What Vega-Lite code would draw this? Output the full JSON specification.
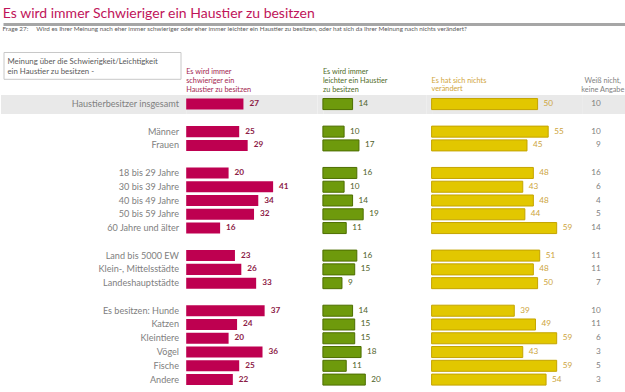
{
  "$schema": "https://vega.github.io/schema/vega-lite/v6.json",
  "background": "white",
  "padding": {"left": -9.5, "top": 7, "right": -9.5, "bottom": 0},
  "config": {
    "view": {"stroke": null},
    "font": "Lato",
    "text": {"font": "Lato"},
    "axis": {"labelFont": "Lato", "titleFont": "Lato"},
    "title": {"font": "Lato"}
  },
  "title": {
    "text": "Es wird immer Schwieriger ein Haustier zu besitzen",
    "anchor": "start",
    "frame": "bounds",
    "dx": 11.8,
    "fontSize": 14,
    "fontWeight": "normal",
    "color": "#c0145a",
    "offset": 2
  },
  "datasets": {
    "rows": [
      {"label": "Haustierbesitzer insgesamt", "schwieriger": 27, "leichter": 14, "unveraendert": 50, "weissnicht": 10},
      {"label": "Männer", "schwieriger": 25, "leichter": 10, "unveraendert": 55, "weissnicht": 10},
      {"label": "Frauen", "schwieriger": 29, "leichter": 17, "unveraendert": 45, "weissnicht": 9},
      {"label": "18 bis 29 Jahre", "schwieriger": 20, "leichter": 16, "unveraendert": 48, "weissnicht": 16},
      {"label": "30 bis 39 Jahre", "schwieriger": 41, "leichter": 10, "unveraendert": 43, "weissnicht": 6},
      {"label": "40 bis 49 Jahre", "schwieriger": 34, "leichter": 14, "unveraendert": 48, "weissnicht": 4},
      {"label": "50 bis 59 Jahre", "schwieriger": 32, "leichter": 19, "unveraendert": 44, "weissnicht": 5},
      {"label": "60 Jahre und älter", "schwieriger": 16, "leichter": 11, "unveraendert": 59, "weissnicht": 14},
      {"label": "Land bis 5000 EW", "schwieriger": 23, "leichter": 16, "unveraendert": 51, "weissnicht": 11},
      {"label": "Klein-, Mittelsstädte", "schwieriger": 26, "leichter": 15, "unveraendert": 48, "weissnicht": 11},
      {"label": "Landeshauptstädte", "schwieriger": 33, "leichter": 9, "unveraendert": 50, "weissnicht": 7},
      {"label": "Es besitzen: Hunde", "schwieriger": 37, "leichter": 14, "unveraendert": 39, "weissnicht": 10},
      {"label": "Katzen", "schwieriger": 24, "leichter": 15, "unveraendert": 49, "weissnicht": 11},
      {"label": "Kleintiere", "schwieriger": 20, "leichter": 15, "unveraendert": 59, "weissnicht": 6},
      {"label": "Vögel", "schwieriger": 36, "leichter": 18, "unveraendert": 43, "weissnicht": 3},
      {"label": "Fische", "schwieriger": 25, "leichter": 11, "unveraendert": 59, "weissnicht": 5},
      {"label": "Andere", "schwieriger": 22, "leichter": 20, "unveraendert": 54, "weissnicht": 3}
    ],
    "headers": [
      {"col": "box", "text": "Meinung über die Schwierigkeit/Leichtigkeit\nein Haustier zu besitzen -"},
      {"col": "r", "text": "Es wird immer\nschwieriger ein\nHaustier zu besitzen"},
      {"col": "g", "text": "Es wird immer\nleichter ein Haustier\nzu besitzen"},
      {"col": "y", "text": "Es hat sich nichts\nverändert"},
      {"col": "k", "text": "Weiß nicht,\nkeine Angabe"}
    ]
  },
  "spacing": 18,
  "vconcat": [
    {
      "width": 642,
      "height": 3,
      "data": {"values": [{}]},
      "mark": {"type": "rule", "color": "#a6a6a6", "strokeWidth": 3},
      "encoding": {"y": {"datum": 0.5, "type": "quantitative", "scale": {"domain": [0, 1]}, "axis": null}},
      "title": {
        "text": "Frage 27:\u00a0\u00a0\u00a0\u00a0 Wird es Ihrer Meinung nach eher immer schwieriger oder eher immer leichter ein Haustier zu besitzen, oder hat sich da Ihrer Meinung nach nichts verändert?",
        "orient": "bottom",
        "anchor": "start",
        "frame": "group",
        "dx": -1,
        "fontSize": 6.3,
        "fontWeight": "normal",
        "color": "#595959",
        "offset": 0
      }
    },
    {
      "hconcat": [
        {
          "width": 177,
          "height": 26.8,
          "view": {"stroke": "#c8c8c8", "strokeWidth": 1},
          "data": {"name": "headers"},
          "transform": [{"filter": "datum.col == 'box'"}],
          "mark": {"type": "text", "align": "left", "baseline": "middle", "lineBreak": "\n", "dx": 4, "dy": -3, "fontSize": 7.8, "lineHeight": 9.7, "color": "#595959"},
          "encoding": {
            "x": {"datum": 0, "type": "quantitative", "scale": {"domain": [0, 1]}, "axis": null},
            "text": {"field": "text"}
          }
        },
        {
          "width": 130.9,
          "height": 333.1,
          "data": {"name": "rows"},
          "encoding": {
            "y": {
              "field": "label", "type": "nominal", "sort": null,
              "scale": {"type": "band", "domain": ["_h0", "_h", "Haustierbesitzer insgesamt", "_1", "Männer", "Frauen", "_2", "18 bis 29 Jahre", "30 bis 39 Jahre", "40 bis 49 Jahre", "50 bis 59 Jahre", "60 Jahre und älter", "_3", "Land bis 5000 EW", "Klein-, Mittelsstädte", "Landeshauptstädte", "_4", "Es besitzen: Hunde", "Katzen", "Kleintiere", "Vögel", "Fische", "Andere"], "paddingInner": 0.2, "paddingOuter": 0.69, "align": 1},
              "axis": {
                "title": null, "domain": false, "ticks": true, "tickSize": 185.7, "tickWidth": 19,
                "tickColor": {"condition": {"test": "datum.value === 'Haustierbesitzer insgesamt'", "value": "#e9e9e9"}, "value": "transparent"},
                "grid": true, "gridWidth": 19,
                "gridColor": {"condition": {"test": "datum.value === 'Haustierbesitzer insgesamt'", "value": "#e9e9e9"}, "value": "transparent"},
                "labelExpr": "indexof(datum.value, '_') === 0 ? '' : datum.value",
                "labelPadding": -178, "labelFontSize": 9.1, "labelColor": "#808080", "labelLimit": 0
              }
            }
          },
          "layer": [
            {
              "mark": {"type": "bar", "color": "#be0050"},
              "encoding": {"x": {"field": "schwieriger", "type": "quantitative", "scale": {"domain": [0, 61.75], "nice": false}, "axis": null}}
            },
            {
              "mark": {"type": "text", "align": "left", "baseline": "middle", "dx": 6, "fontSize": 8.2, "fontWeight": "bold", "color": "#8c1a45"},
              "encoding": {"x": {"field": "schwieriger", "type": "quantitative"}, "text": {"field": "schwieriger"}}
            },
            {
              "data": {"name": "headers"},
              "transform": [{"filter": "datum.col == 'r'"}],
              "mark": {"type": "text", "align": "left", "baseline": "top", "lineBreak": "\n", "fontSize": 7.3, "lineHeight": 8.8, "dy": -8.4, "color": "#a31e50"},
              "encoding": {"x": {"datum": 0, "type": "quantitative"}, "y": {"datum": "_h0"}, "text": {"field": "text"}}
            }
          ]
        },
        {
          "width": 103,
          "height": 333.1,
          "data": {"name": "rows"},
          "encoding": {
            "y": {
              "field": "label", "type": "nominal", "sort": null,
              "scale": {"type": "band", "domain": ["_h0", "_h", "Haustierbesitzer insgesamt", "_1", "Männer", "Frauen", "_2", "18 bis 29 Jahre", "30 bis 39 Jahre", "40 bis 49 Jahre", "50 bis 59 Jahre", "60 Jahre und älter", "_3", "Land bis 5000 EW", "Klein-, Mittelsstädte", "Landeshauptstädte", "_4", "Es besitzen: Hunde", "Katzen", "Kleintiere", "Vögel", "Fische", "Andere"], "paddingInner": 0.2, "paddingOuter": 0.69, "align": 1},
              "axis": {
                "title": null, "domain": false, "labels": false, "ticks": true, "tickSize": 5.7, "tickWidth": 19,
                "tickColor": {"condition": {"test": "datum.value === 'Haustierbesitzer insgesamt'", "value": "#e9e9e9"}, "value": "transparent"},
                "grid": true, "gridWidth": 19,
                "gridColor": {"condition": {"test": "datum.value === 'Haustierbesitzer insgesamt'", "value": "#e9e9e9"}, "value": "transparent"}
              }
            }
          },
          "layer": [
            {
              "mark": {"type": "bar", "color": "#6e9a0c", "stroke": "#4d6e00", "strokeWidth": 1},
              "encoding": {"x": {"field": "leichter", "type": "quantitative", "scale": {"domain": [0, 48.58], "nice": false}, "axis": null}}
            },
            {
              "mark": {"type": "text", "align": "left", "baseline": "middle", "dx": 6, "fontSize": 8.2, "color": "#4f6228"},
              "encoding": {"x": {"field": "leichter", "type": "quantitative"}, "text": {"field": "leichter"}}
            },
            {
              "data": {"name": "headers"},
              "transform": [{"filter": "datum.col == 'g'"}],
              "mark": {"type": "text", "align": "left", "baseline": "top", "lineBreak": "\n", "fontSize": 7.3, "lineHeight": 8.8, "dy": -8.4, "color": "#4f6b1f"},
              "encoding": {"x": {"datum": 0, "type": "quantitative"}, "y": {"datum": "_h0"}, "text": {"field": "text"}}
            }
          ]
        },
        {
          "width": 144.3,
          "height": 333.1,
          "data": {"name": "rows"},
          "encoding": {
            "y": {
              "field": "label", "type": "nominal", "sort": null,
              "scale": {"type": "band", "domain": ["_h0", "_h", "Haustierbesitzer insgesamt", "_1", "Männer", "Frauen", "_2", "18 bis 29 Jahre", "30 bis 39 Jahre", "40 bis 49 Jahre", "50 bis 59 Jahre", "60 Jahre und älter", "_3", "Land bis 5000 EW", "Klein-, Mittelsstädte", "Landeshauptstädte", "_4", "Es besitzen: Hunde", "Katzen", "Kleintiere", "Vögel", "Fische", "Andere"], "paddingInner": 0.2, "paddingOuter": 0.69, "align": 1},
              "axis": {
                "title": null, "domain": false, "labels": false, "ticks": true, "tickSize": 5.7, "tickWidth": 19,
                "tickColor": {"condition": {"test": "datum.value === 'Haustierbesitzer insgesamt'", "value": "#e9e9e9"}, "value": "transparent"},
                "grid": true, "gridWidth": 19,
                "gridColor": {"condition": {"test": "datum.value === 'Haustierbesitzer insgesamt'", "value": "#e9e9e9"}, "value": "transparent"}
              }
            }
          },
          "layer": [
            {
              "mark": {"type": "bar", "color": "#e2c700", "stroke": "#c4a400", "strokeWidth": 1},
              "encoding": {"x": {"field": "unveraendert", "type": "quantitative", "scale": {"domain": [0, 68.07], "nice": false}, "axis": null}}
            },
            {
              "mark": {"type": "text", "align": "left", "baseline": "middle", "dx": 6, "fontSize": 8.2, "color": "#cda43c"},
              "encoding": {"x": {"field": "unveraendert", "type": "quantitative"}, "text": {"field": "unveraendert"}}
            },
            {
              "data": {"name": "headers"},
              "transform": [{"filter": "datum.col == 'y'"}],
              "mark": {"type": "text", "align": "left", "baseline": "top", "lineBreak": "\n", "fontSize": 7.3, "lineHeight": 8.8, "dy": 0, "color": "#d0a53a"},
              "encoding": {"x": {"datum": 0, "type": "quantitative"}, "y": {"datum": "_h0"}, "text": {"field": "text"}}
            }
          ]
        },
        {
          "width": 44,
          "height": 333.1,
          "data": {"name": "rows"},
          "encoding": {
            "y": {
              "field": "label", "type": "nominal", "sort": null,
              "scale": {"type": "band", "domain": ["_h0", "_h", "Haustierbesitzer insgesamt", "_1", "Männer", "Frauen", "_2", "18 bis 29 Jahre", "30 bis 39 Jahre", "40 bis 49 Jahre", "50 bis 59 Jahre", "60 Jahre und älter", "_3", "Land bis 5000 EW", "Klein-, Mittelsstädte", "Landeshauptstädte", "_4", "Es besitzen: Hunde", "Katzen", "Kleintiere", "Vögel", "Fische", "Andere"], "paddingInner": 0.2, "paddingOuter": 0.69, "align": 1},
              "axis": {
                "title": null, "domain": false, "labels": false, "ticks": true, "tickSize": 8, "tickWidth": 19,
                "tickColor": {"condition": {"test": "datum.value === 'Haustierbesitzer insgesamt'", "value": "#e9e9e9"}, "value": "transparent"},
                "grid": true, "gridWidth": 19,
                "gridColor": {"condition": {"test": "datum.value === 'Haustierbesitzer insgesamt'", "value": "#e9e9e9"}, "value": "transparent"}
              }
            }
          },
          "layer": [
            {
              "mark": {"type": "text", "align": "right", "baseline": "middle", "dx": -3.5, "fontSize": 8.2, "color": "#7f7f7f"},
              "encoding": {"text": {"field": "weissnicht"}}
            },
            {
              "data": {"name": "headers"},
              "transform": [{"filter": "datum.col == 'k'"}],
              "mark": {"type": "text", "align": "center", "baseline": "top", "lineBreak": "\n", "fontSize": 7.3, "lineHeight": 8.8, "dx": -1.5, "dy": 0.5, "color": "#7f7f7f"},
              "encoding": {"y": {"datum": "_h0"}, "text": {"field": "text"}}
            }
          ]
        }
      ],
      "spacing": 5.7,
      "bounds": "flush"
    }
  ]
}
